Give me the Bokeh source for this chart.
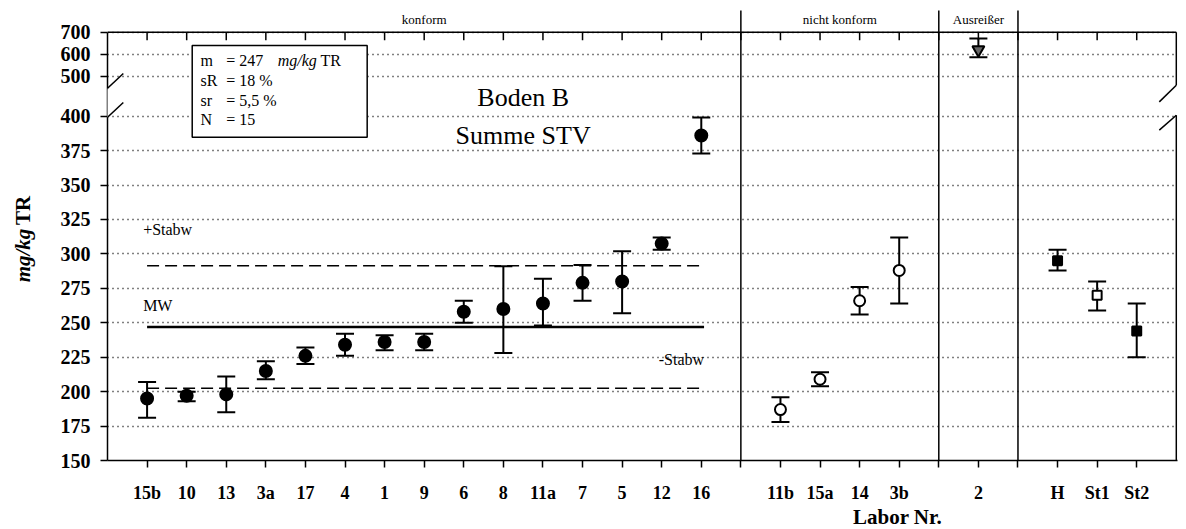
import math
from bokeh.plotting import figure
from bokeh.models import (Range1d, FixedTicker, Label, Arrow, Whisker, TeeHead,
                          ColumnDataSource)
from bokeh.core.properties import value
from bokeh.embed import file_html
from bokeh.resources import INLINE

# Ringversuch Boden B, Summe STV in mg/kg TR
konform_labs = ["15b", "10", "13", "3a", "17", "4", "1", "9", "6", "8", "11a", "7", "5", "12", "16"]
konform_mean = [195, 197, 198, 215, 226, 234, 236, 236, 258, 260, 264, 279, 280, 307.5, 386]
konform_lo = [181, 193, 185, 209, 220, 226, 230, 230, 250, 228, 248, 266, 257, 303, 373]
konform_hi = [207, 200, 211, 222, 232, 242, 241, 242, 266, 291, 282, 292, 302, 312, 399]

nicht_labs = ["11b", "15a", "14", "3b"]
nicht_mean = [187, 209, 266, 288]
nicht_lo = [178, 204, 256, 264]
nicht_hi = [196, 214, 276, 312]

aus_labs = ["2"]
aus_mean = [620]
aus_lo = [586]
aus_hi = [671]

ref_labs = ["H", "St1", "St2"]
ref_mean = [295, 270, 244]
ref_lo = [288, 259, 225]
ref_hi = [303, 280, 264]

section_names = ["konform", "nicht konform", "Ausreißer", ""]

m_wert = 247
s_R = 18
s_r = 5.5
n_lab = 15

y_ticks = [150, 175, 200, 225, 250, 275, 300, 325, 350, 375, 400, 500, 600, 700]

SERIF = "Liberation Serif"


def ty(v):
    # gebrochene Achse: bis 400 linear, ab 500 gestaucht
    if v <= 400:
        return v
    return 429 + (v - 500) * 0.16


# x-Positionen: Gruppen nebeneinander, je eine Trennspalte dazwischen
groups = [konform_labs, nicht_labs, aus_labs, ref_labs]
xpos = []
dividers = []
k = 1
for labs in groups:
    xpos.append(list(range(k, k + len(labs))))
    k += len(labs)
    dividers.append(k)
    k += 1
x_end = dividers[-1]

p = figure(width=1184, height=529, output_backend="svg", toolbar_location=None,
           x_range=Range1d(0, x_end + 0.03), y_range=Range1d(150, 478.2),
           min_border_left=107, min_border_right=7, min_border_top=8, min_border_bottom=68)
p.outline_line_color = None
p.xgrid.grid_line_color = None
p.ygrid.grid_line_color = "black"
p.ygrid.grid_line_dash = "1 4"
p.ygrid.grid_line_width = 1.3

yt = [ty(v) for v in y_ticks]
p.yaxis.ticker = FixedTicker(ticks=yt)
p.yaxis.major_label_overrides = {t: str(v) for t, v in zip(yt, y_ticks)}
p.yaxis.bounds = (150, ty(700))
p.yaxis.minor_tick_line_color = None
p.yaxis.major_tick_in = 0
p.yaxis.major_tick_out = 7
p.yaxis.axis_line_width = 1.5
p.yaxis.major_tick_line_width = 1.5
p.yaxis.major_label_standoff = 10
p.yaxis.major_label_text_font = SERIF
p.yaxis.major_label_text_font_style = "bold"
p.yaxis.major_label_text_font_size = "20px"
p.yaxis.major_label_text_color = "black"

all_pos = [x for g in xpos for x in g]
all_labs = [l for g in groups for l in g]
xt = list(range(1, x_end))
p.xaxis.ticker = FixedTicker(ticks=xt)
overrides = {t: "" for t in xt}
overrides.update({x: l for x, l in zip(all_pos, all_labs)})
p.xaxis.major_label_overrides = overrides
p.xaxis.minor_tick_line_color = None
p.xaxis.major_tick_in = 0
p.xaxis.major_tick_out = 7
p.xaxis.axis_line_width = 1.5
p.xaxis.major_tick_line_width = 1.5
p.xaxis.major_label_standoff = 15
p.xaxis.major_label_text_font = SERIF
p.xaxis.major_label_text_font_style = "bold"
p.xaxis.major_label_text_font_size = "18px"
p.xaxis.major_label_text_color = "black"

# Rahmen oben mit Ticks, rechts mit Bruchstelle, Trennlinien der Gruppen
top = ty(700)
p.segment(x0=[0], y0=[top], x1=[x_end], y1=[top], line_color="black", line_width=1.5)
p.segment(x0=xt, y0=[top] * len(xt), x1=xt, y1=[top - 5.8] * len(xt),
          line_color="black", line_width=1.5)
p.segment(x0=[x_end, x_end], y0=[150, 422.5], x1=[x_end, x_end], y1=[400.7, top],
          line_color="black", line_width=1.5)
p.segment(x0=dividers[:-1], y0=[150] * 3, x1=dividers[:-1], y1=[476.8] * 3,
          line_color="black", line_width=1.5)

starts = [0] + dividers[:-1]
for s, e, name in zip(starts, dividers, section_names):
    if name:
        p.text(x=[(s + e) / 2], y=[470.3], text=[name], text_font=value(SERIF),
               text_font_size="13px", text_align="center", text_baseline="middle")

# Achsenbruch links und rechts
p.add_layout(Arrow(end=None, x_start=0, y_start=399.3, x_end=0, y_end=420.3,
                   line_color="white", line_width=4))
for y0, y1 in [(389, 410), (410, 431)]:
    p.add_layout(Arrow(end=None, x_start=-0.38, y_start=y0, x_end=0.4, y_end=y1,
                       line_color="black", line_width=1.5))
for y0, y1 in [(389.9, 400.7), (410.4, 422.5)]:
    p.add_layout(Arrow(end=None, x_start=x_end - 0.43, y_start=y0, x_end=x_end, y_end=y1,
                       line_color="black", line_width=1.5))

# Mittelwert und Standardabweichung
x_a = xpos[0][0]
x_b = xpos[0][-1] + 0.07
plus = m_wert * (1 + s_R / 100)
minus = m_wert * (1 - s_R / 100)
p.segment(x0=[x_a], y0=[m_wert], x1=[x_b], y1=[m_wert], line_color="black", line_width=2.5)
p.segment(x0=[x_a, x_a], y0=[plus, minus], x1=[x_b, x_b], y1=[plus, minus],
          line_color="black", line_width=1.5, line_dash="12 6")
p.text(x=[x_a - 0.1, x_a - 0.1], y=[317.4, 262.3], text=["+Stabw", "MW"],
       text_font=value(SERIF), text_font_size="16px", text_baseline="middle")
p.text(x=[x_b], y=[223.2], text=["-Stabw"], text_font=value(SERIF),
       text_font_size="16px", text_align="right", text_baseline="middle")


def add_series(xs, mean, lo, hi, marker, size, fill):
    src = ColumnDataSource(dict(x=xs, y=[ty(v) for v in mean],
                                lo=[ty(v) for v in lo], hi=[ty(v) for v in hi], fill=fill))
    p.add_layout(Whisker(source=src, base="x", lower="lo", upper="hi",
                         line_color="black", line_width=2,
                         upper_head=TeeHead(size=18, line_width=2, line_color="black"),
                         lower_head=TeeHead(size=18, line_width=2, line_color="black")))
    p.scatter(x="x", y="y", source=src, marker=marker, size=size,
              fill_color="fill", line_color="black", line_width=2)


add_series(xpos[0], konform_mean, konform_lo, konform_hi, "circle", 12, ["black"] * len(konform_labs))
add_series(xpos[1], nicht_mean, nicht_lo, nicht_hi, "circle", 11, ["white"] * len(nicht_labs))
add_series(xpos[2], aus_mean, aus_lo, aus_hi, "inverted_triangle", 12, ["#666666"])
add_series(xpos[3], ref_mean, ref_lo, ref_hi, "square", 9, ["black", "white", "black"])

# Kennwerte-Kasten
p.quad(left=[2.14], right=[6.56], bottom=[384.8], top=[451.4],
       fill_color="white", line_color="black", line_width=1.5)
box_y = [440.6, 426.1, 411.6, 397.8]
p.text(x=[2.35] * 4, y=box_y, text=["m", "sR", "sr", "N"], text_font=value(SERIF),
       text_font_size="16px", text_baseline="middle")
p.text(x=[3.0] * 4, y=box_y,
       text=["= %d" % m_wert, "= %d %%" % s_R, ("= %s %%" % s_r).replace(".", ","), "= %d" % n_lab],
       text_font=value(SERIF), text_font_size="16px", text_baseline="middle")
p.text(x=[4.3], y=[box_y[0]], text=["mg/kg"], text_font=value(SERIF), text_font_style="italic",
       text_font_size="16px", text_baseline="middle")
p.text(x=[5.38], y=[box_y[0]], text=["TR"], text_font=value(SERIF),
       text_font_size="16px", text_baseline="middle")

p.text(x=[10.5, 10.5], y=[413.8, 386.2], text=["Boden B", "Summe STV"], text_font=value(SERIF),
       text_font_size="26px", text_align="center", text_baseline="middle")

# Achsentitel in den Randbereichen
p.add_layout(Label(x=22, y=255, x_units="canvas", y_units="canvas", text="mg/kg",
                   angle=math.pi / 2, text_font=SERIF, text_font_style="bold italic",
                   text_font_size="21px", text_color="black",
                   text_align="center", text_baseline="middle"), "left")
p.add_layout(Label(x=22, y=210, x_units="canvas", y_units="canvas", text="TR",
                   angle=math.pi / 2, text_font=SERIF, text_font_style="bold",
                   text_font_size="21px", text_color="black",
                   text_align="center", text_baseline="middle"), "left")
p.add_layout(Label(x=897, y=516, x_units="canvas", y_units="canvas", text="Labor Nr.",
                   text_font=SERIF, text_font_style="bold", text_font_size="21px",
                   text_color="black", text_align="center", text_baseline="middle"), "below")

open("out.html", "w").write(file_html(p, INLINE))
